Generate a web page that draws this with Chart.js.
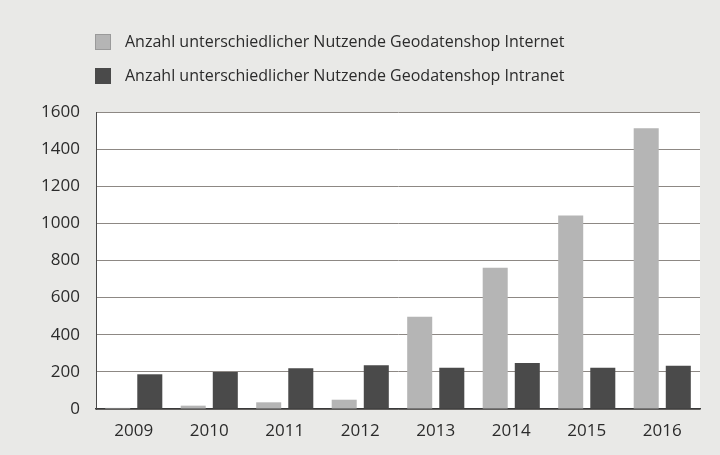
<!DOCTYPE html>
<html>
<head>
<meta charset="utf-8">
<script src="https://cdn.jsdelivr.net/npm/chart.js@4/dist/chart.umd.min.js"></script>
<style>
  html, body { margin: 0; padding: 0; background: #e9e9e7; }
  #wrap { width: 720px; height: 455px; }
</style>
</head>
<body>
<div id="wrap"><canvas id="chart" width="720" height="455"></canvas></div>
<script>
// Data
const years = ['2009', '2010', '2011', '2012', '2013', '2014', '2015', '2016'];
const internetUsers = [6, 18, 36, 50, 497, 761, 1043, 1512];
const intranetUsers = [187, 199, 220, 236, 222, 248, 222, 233];
const yTicks = [0, 200, 400, 600, 800, 1000, 1200, 1400, 1600];

const seriesLabels = [
    'Anzahl unterschiedlicher Nutzende Geodatenshop Internet',
    'Anzahl unterschiedlicher Nutzende Geodatenshop Intranet'
];

const fontFamily = '"Open Sans", "Noto Sans", sans-serif';
const textColor = '#2b2b2b';

// white plot area + legend in the top left
const paperPlugin = {
    id: 'paper',
    beforeDraw(chart) {
        const { ctx, chartArea } = chart;
        ctx.save();
        ctx.fillStyle = '#ffffff';
        ctx.fillRect(chartArea.left, chartArea.top, chartArea.right - chartArea.left, chartArea.bottom - chartArea.top);
        ctx.restore();
    },
    afterDraw(chart) {
        const { ctx } = chart;
        ctx.save();
        ctx.font = '16px ' + fontFamily;
        ctx.textBaseline = 'middle';
        chart.data.datasets.forEach((ds, i) => {
            const y = 34 + i * 34;
            ctx.fillStyle = ds.backgroundColor;
            ctx.fillRect(95, y, 16, 16);
            ctx.strokeStyle = i === 0 ? '#9a9a9a' : ds.backgroundColor;
            ctx.lineWidth = 1;
            ctx.strokeRect(95.5, y + 0.5, 15, 15);
            ctx.fillStyle = textColor;
            ctx.fillText(ds.label, 125, y + 8);
        });
        ctx.restore();
    }
};

new Chart(document.getElementById('chart'), {
    type: 'bar',
    data: {
        labels: years,
        datasets: [
            {
                label: seriesLabels[0],
                data: internetUsers,
                backgroundColor: '#b5b5b5',
                categoryPercentage: 0.85,
                barPercentage: 0.78
            },
            {
                label: seriesLabels[1],
                data: intranetUsers,
                backgroundColor: '#4a4a4a',
                categoryPercentage: 0.85,
                barPercentage: 0.78
            }
        ]
    },
    options: {
        responsive: false,
        animation: false,
        layout: {
            padding: { top: 112, right: 20, left: 0, bottom: 0 }
        },
        scales: {
            x: {
                grid: { display: false, drawTicks: false },
                border: { color: '#3a3a3a', width: 1.5 },
                ticks: {
                    color: textColor,
                    font: { family: fontFamily, size: 17 },
                    padding: 12
                },
                afterFit(scale) { scale.height = 46; }
            },
            y: {
                min: 0,
                max: 1600,
                afterBuildTicks(scale) {
                    scale.ticks = yTicks.map(v => ({ value: v }));
                },
                grid: { color: '#8d8884', lineWidth: 1, drawTicks: false },
                border: { color: '#4a4a4a', width: 1 },
                ticks: {
                    color: textColor,
                    font: { family: fontFamily, size: 17 },
                    padding: 16,
                    callback: (value) => String(value)
                },
                afterFit(scale) { scale.width = 96; }
            }
        },
        plugins: {
            legend: { display: false },
            tooltip: { enabled: false }
        }
    },
    plugins: [paperPlugin]
});
</script>
</body>
</html>
